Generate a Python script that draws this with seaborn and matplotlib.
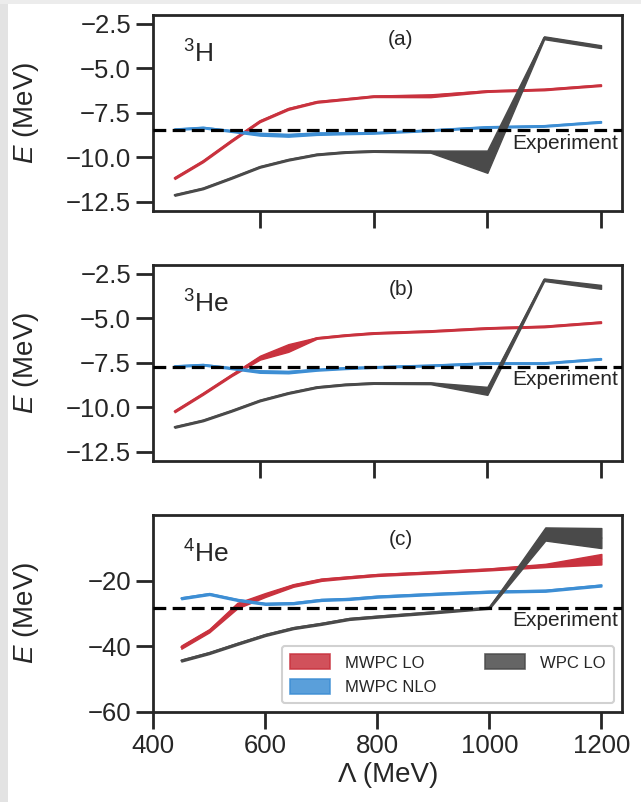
import numpy as np
import pandas as pd
import matplotlib
matplotlib.use("Agg")
import matplotlib.pyplot as plt
import seaborn as sns
from matplotlib.patches import Patch, Rectangle
from matplotlib.transforms import blended_transform_factory

# ---------------- data ----------------
cutoffs = [450, 500, 550, 600, 650, 700, 750, 800, 900, 1000, 1100, 1200]

# panel (a) 3H
h3_mwpc_lo_low = [-11.22, -10.27, -9.12, -8.02, -7.33, -6.93, -6.77, -6.61, -6.62, -6.32, -6.23, -5.99]
h3_mwpc_lo_up = [-11.12, -10.17, -9.02, -7.92, -7.23, -6.84, -6.69, -6.53, -6.46, -6.24, -6.15, -5.91]
h3_mwpc_nlo_low = [-8.47, -8.37, -8.57, -8.78, -8.84, -8.74, -8.70, -8.67, -8.52, -8.34, -8.28, -8.05]
h3_mwpc_nlo_up = [-8.39, -8.29, -8.47, -8.62, -8.68, -8.60, -8.60, -8.59, -8.44, -8.26, -8.20, -7.97]
h3_wpc_lo_low = [-12.16, -11.79, -11.20, -10.58, -10.18, -9.88, -9.75, -9.69, -9.74, -10.87, -3.36, -3.86]
h3_wpc_lo_up = [-12.08, -11.71, -11.12, -10.50, -10.10, -9.80, -9.67, -9.61, -9.62, -9.62, -3.20, -3.70]
h3_experiment = -8.48

# panel (b) 3He
he3_mwpc_lo_low = [-10.28, -9.29, -8.25, -7.32, -6.88, -6.15, -5.99, -5.87, -5.76, -5.59, -5.50, -5.26]
he3_mwpc_lo_up = [-10.18, -9.19, -8.15, -7.10, -6.45, -6.07, -5.91, -5.79, -5.68, -5.51, -5.42, -5.18]
he3_mwpc_nlo_low = [-7.73, -7.65, -7.85, -8.06, -8.09, -7.94, -7.85, -7.78, -7.69, -7.56, -7.56, -7.32]
he3_mwpc_nlo_up = [-7.65, -7.57, -7.75, -7.92, -7.95, -7.84, -7.75, -7.70, -7.61, -7.48, -7.48, -7.24]
he3_wpc_lo_low = [-11.15, -10.78, -10.24, -9.66, -9.24, -8.91, -8.76, -8.68, -8.70, -9.30, -2.90, -3.34]
he3_wpc_lo_up = [-11.07, -10.70, -10.16, -9.58, -9.16, -8.83, -8.68, -8.60, -8.60, -8.85, -2.76, -3.12]
he3_experiment = -7.72

# panel (c) 4He
he4_mwpc_lo_low = [-40.8, -35.8, -28.5, -25.0, -21.9, -20.1, -19.3, -18.6, -17.8, -16.9, -15.9, -15.1]
he4_mwpc_lo_up = [-39.8, -34.8, -26.8, -23.8, -21.1, -19.4, -18.7, -18.0, -17.2, -16.3, -14.9, -11.9]
he4_mwpc_nlo_low = [-25.7, -24.4, -26.2, -27.4, -27.2, -26.2, -25.9, -25.2, -24.4, -23.7, -23.4, -21.8]
he4_mwpc_nlo_up = [-25.1, -23.8, -25.6, -26.8, -26.6, -25.6, -25.3, -24.6, -23.8, -23.1, -22.8, -21.2]
he4_wpc_lo_low = [-44.7, -42.4, -39.6, -36.9, -34.8, -33.5, -32.0, -31.3, -30.0, -28.6, -7.8, -10.1]
he4_wpc_lo_up = [-44.1, -41.8, -39.0, -36.3, -34.2, -32.9, -31.4, -30.7, -29.4, -28.0, -3.8, -4.0]
he4_experiment = -28.3

series_names = ["MWPC LO", "MWPC NLO", "WPC LO"]
series_colors = ["#c9323e", "#3d8ed4", "#4a4a4a"]
nuclei = ["$^{3}$H", "$^{3}$He", "$^{4}$He"]
panel_tags = ["(a)", "(b)", "(c)"]
y_ticks_small = [-12.5, -10.0, -7.5, -5.0, -2.5]
y_ticks_big = [-60, -40, -20]
x_ticks = [400, 600, 800, 1000, 1200]

panels = [
    ([(h3_mwpc_lo_low, h3_mwpc_lo_up), (h3_mwpc_nlo_low, h3_mwpc_nlo_up), (h3_wpc_lo_low, h3_wpc_lo_up)], h3_experiment),
    ([(he3_mwpc_lo_low, he3_mwpc_lo_up), (he3_mwpc_nlo_low, he3_mwpc_nlo_up), (he3_wpc_lo_low, he3_wpc_lo_up)], he3_experiment),
    ([(he4_mwpc_lo_low, he4_mwpc_lo_up), (he4_mwpc_nlo_low, he4_mwpc_nlo_up), (he4_wpc_lo_low, he4_wpc_lo_up)], he4_experiment),
]

# ---------------- style ----------------
sns.set_theme(style="ticks")
plt.rcParams["font.family"] = ["Liberation Sans", "DejaVu Sans"]
plt.rcParams["mathtext.fontset"] = "custom"
plt.rcParams["mathtext.rm"] = "Liberation Sans"
plt.rcParams["mathtext.it"] = "Liberation Sans:italic"
plt.rcParams["mathtext.bf"] = "Liberation Sans:bold"
plt.rcParams["mathtext.sf"] = "Liberation Sans"
dark = "#262626"

fig = plt.figure(figsize=(6.41, 8.02), dpi=100)
fig.patch.set_facecolor("white")
fig.patches.append(Rectangle((0, 0), 8 / 641, 1, transform=fig.transFigure,
                             facecolor="#e3e3e3", edgecolor="none", zorder=-5))
fig.patches.append(Rectangle((0, 1 - 4 / 802), 1, 4 / 802, transform=fig.transFigure,
                             facecolor="#ececec", edgecolor="none", zorder=-5))

left, width = 0.2392, 0.7317
rects = [(left, 0.7373, width, 0.2440),
         (left, 0.4256, width, 0.2440),
         (left, 0.1126, width, 0.2453)]

for i, ((bands, exp_val), rect) in enumerate(zip(panels, rects)):
    ax = fig.add_axes(rect)
    ax.set_facecolor("white")
    for name, col, (lo, up) in zip(series_names, series_colors, bands):
        df = pd.DataFrame({"cutoff": cutoffs + cutoffs, "E": list(lo) + list(up)})
        # band between lower and upper results
        ax.fill_between(cutoffs, lo, up, facecolor=col, edgecolor=col,
                        linewidth=1.0, alpha=1.0, zorder=2)
        # central curve through seaborn
        sns.lineplot(data=df, x="cutoff", y="E", ax=ax, color=col,
                     errorbar=None, linewidth=1.5, zorder=2)
    ax.axhline(exp_val, color="black", lw=2.3, ls=(0, (4, 2)), zorder=5)
    ax.annotate("Experiment", xy=(0.992, exp_val),
                xycoords=blended_transform_factory(ax.transAxes, ax.transData),
                xytext=(0, -2.5), textcoords="offset points",
                ha="right", va="top", fontsize=15, color=dark, zorder=6)
    ax.text(0.064, 0.758, nuclei[i], transform=ax.transAxes, fontsize=19,
            ha="left", va="baseline", color=dark)
    ax.text(0.528, 0.874, panel_tags[i], transform=ax.transAxes, fontsize=15,
            ha="center", va="center", color=dark)

    if i < 2:
        ax.set_ylim(-13, -2)
        ax.set_yticks(y_ticks_small)
        ax.set_xticks(x_ticks)
        ax.set_xlim(412.5, 1237.5)
        ax.tick_params(axis="x", labelbottom=False)
        ax.set_xlabel("")
    else:
        ax.set_ylim(-60, 0)
        ax.set_yticks(y_ticks_big)
        ax.set_xticks(x_ticks)
        ax.set_xlim(400, 1237.5)
        ax.set_xlabel("Λ (MeV)", fontsize=20, color=dark, labelpad=3)
        handles = [Patch(facecolor=c, edgecolor=c, alpha=0.85, linewidth=1.2, label=n)
                   for n, c in zip(series_names, series_colors)]
        leg = ax.legend(handles=handles, loc="lower right", ncol=2, fontsize=12,
                        frameon=True, fancybox=True, framealpha=0.9,
                        edgecolor="#cccccc", handlelength=2.4, handleheight=1.0,
                        handletextpad=0.9, columnspacing=2.9, labelspacing=0.5,
                        borderpad=0.5)
        leg.get_frame().set_linewidth(1.5)
    ax.set_ylabel("$E$ (MeV)", fontsize=20, color=dark)
    ax.yaxis.set_label_coords(-0.24, 0.5)
    ax.tick_params(axis="both", direction="out", length=12, width=2,
                   color=dark, labelsize=18.5, labelcolor=dark, pad=4)
    for sp in ax.spines.values():
        sp.set_visible(True)
        sp.set_linewidth(2)
        sp.set_color(dark)

fig.savefig("out.png", dpi=100, facecolor=fig.get_facecolor())
